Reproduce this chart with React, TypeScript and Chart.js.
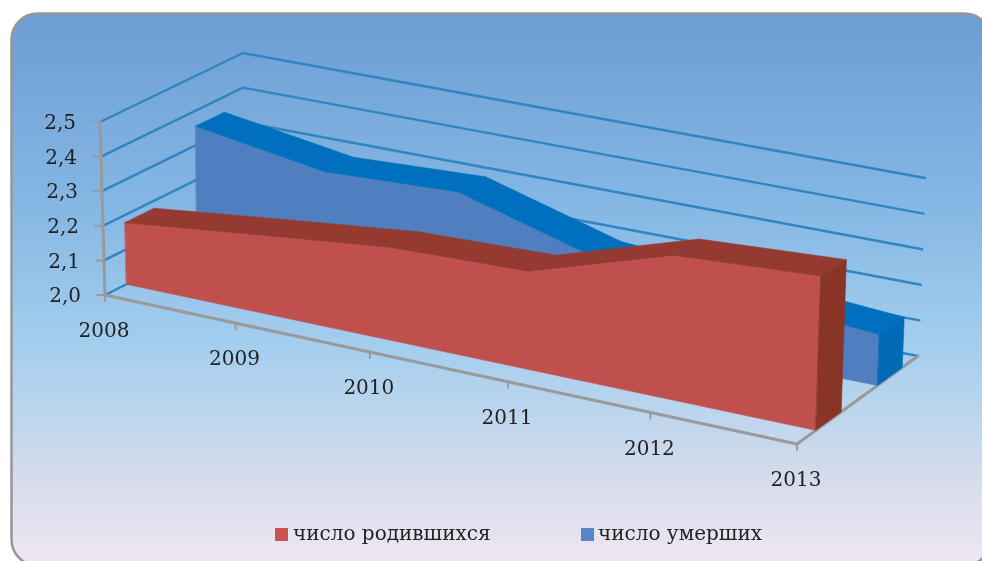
import React, { useEffect, useRef } from "react";
import { Chart, registerables } from "chart.js";

Chart.register(...registerables);

const categories = ["2008", "2009", "2010", "2011", "2012", "2013"];
const birthsLabel = "число родившихся";
const deathsLabel = "число умерших";
const births = [2.178, 2.22, 2.26, 2.27, 2.39, 2.41];
const deaths = [2.355, 2.295, 2.31, 2.2, 2.17, 2.14];
const valueTicks = [2.0, 2.1, 2.2, 2.3, 2.4, 2.5];

type P = [number, number];
const FL: P = [105, 295], FR: P = [797, 444], BR: P = [918, 356], BL: P = [243, 226];
const FLt: P = [100, 122], FRt: P = [803, 254], BRt: P = [925, 178], BLt: P = [243, 53];
const PERSP = -0.07;
const FONT = '20px "DejaVu Serif"';

const mix = (a: P, b: P, t: number): P => [a[0] + (b[0] - a[0]) * t, a[1] + (b[1] - a[1]) * t];
const project = (u: number, d: number, h: number): P => {
  const w = (u * (1 + PERSP)) / (1 + PERSP * u);
  const floor = mix(mix(FL, FR, w), mix(BL, BR, w), d);
  const top = mix(mix(FLt, FRt, w), mix(BLt, BRt, w), d);
  return mix(floor, top, h);
};

const poly = (ctx: CanvasRenderingContext2D, pts: P[], fill: string) => {
  ctx.beginPath();
  pts.forEach((p, i) => (i ? ctx.lineTo(p[0], p[1]) : ctx.moveTo(p[0], p[1])));
  ctx.closePath();
  ctx.fillStyle = fill;
  ctx.strokeStyle = fill;
  ctx.lineWidth = 0.6;
  ctx.fill();
  ctx.stroke();
};
const seg = (ctx: CanvasRenderingContext2D, a: P, b: P, color: string, width: number) => {
  ctx.beginPath();
  ctx.moveTo(a[0], a[1]);
  ctx.lineTo(b[0], b[1]);
  ctx.strokeStyle = color;
  ctx.lineWidth = width;
  ctx.stroke();
};

const look: Record<number, { d1: number; d2: number; front: string; top: string; side: string }> = {
  0: { d1: 0.155, d2: 0.365, front: "#C0504D", top: "#943A30", side: "#883528" },
  1: { d1: 0.665, d2: 0.87, front: "#4F7FBE", top: "#0070BE", side: "#006AB6" },
};

const scene = {
  id: "scene3d",
  beforeDraw(chart: any) {
    const { ctx, width, height } = chart;
    const g = ctx.createLinearGradient(0, 13, 0, 561);
    g.addColorStop(0, "#6C9DD3");
    g.addColorStop(0.35, "#85B7E4");
    g.addColorStop(0.62, "#A6CFEE");
    g.addColorStop(0.82, "#CFDAEC");
    g.addColorStop(1, "#F0E6F2");
    ctx.save();
    ctx.fillStyle = "#fff";
    ctx.fillRect(0, 0, width, height);
    ctx.beginPath();
    ctx.roundRect(11.5, 13.5, 979, 552, 26);
    ctx.fillStyle = g;
    ctx.fill();
    ctx.strokeStyle = "#979797";
    ctx.lineWidth = 2.5;
    ctx.stroke();
    ctx.restore();
  },
  beforeDatasetsDraw(chart: any) {
    const { ctx, chartArea, scales } = chart;
    const xs = scales.x, ys = scales.y;
    const U = (i: number) => (xs.getPixelForValue(i) - chartArea.left) / chartArea.width;
    const H = (v: number) => (chartArea.bottom - ys.getPixelForValue(v)) / chartArea.height;
    ctx.save();
    ctx.lineCap = "round";
    ctx.lineJoin = "round";

    // walls
    valueTicks.forEach((t) => {
      const h = H(t);
      seg(ctx, project(0, 0, h), project(0, 1, h), "#2F86C0", 2.4);
      seg(ctx, project(0, 1, h), project(1, 1, h), "#2F86C0", 2.4);
    });

    // axes
    seg(ctx, project(0, 0, 0), project(0, 0, 1), "#9A9A9A", 3);
    seg(ctx, project(0, 0, 0), project(1, 0, 0), "#9A9A9A", 3);
    seg(ctx, project(1, 0, 0), project(1, 1, 0), "#9A9A9A", 3);

    ctx.font = FONT;
    ctx.fillStyle = "#222";
    ctx.textBaseline = "middle";
    ctx.textAlign = "right";
    valueTicks.forEach((t) => {
      const p = project(0, 0, H(t));
      seg(ctx, p, [p[0] - 8, p[1]], "#9A9A9A", 2);
      ctx.fillStyle = "#222";
      ctx.fillText(t.toFixed(1).replace(".", ","), p[0] - 24, p[1] + 2);
    });
    ctx.textAlign = "center";
    categories.forEach((c, i) => {
      const p = project(U(i), 0, 0);
      seg(ctx, p, [p[0], p[1] + 6], "#9A9A9A", 2);
      ctx.fillStyle = "#222";
      ctx.fillText(c, p[0] - 1, p[1] + 37);
    });

    // series, back to front
    [1, 0].forEach((k) => {
      const vals: number[] = chart.data.datasets[k].data;
      const s = look[k];
      const n = vals.length;
      const frontPts: P[] = vals.map((v, i) => project(U(i), s.d1, H(v)));
      poly(ctx, [...frontPts, project(U(n - 1), s.d1, 0), project(U(0), s.d1, 0)], s.front);
      for (let i = 0; i < n - 1; i++) {
        poly(ctx, [
          project(U(i), s.d1, H(vals[i])),
          project(U(i + 1), s.d1, H(vals[i + 1])),
          project(U(i + 1), s.d2, H(vals[i + 1])),
          project(U(i), s.d2, H(vals[i])),
        ], s.top);
      }
      const last = U(n - 1), h = H(vals[n - 1]);
      poly(ctx, [project(last, s.d1, h), project(last, s.d2, h), project(last, s.d2, 0), project(last, s.d1, 0)], s.side);
    });

    // legend
    const items: [number, number, number, string][] = [[0, 275, 293, "#C9544F"], [1, 581, 598, "#5586C6"]];
    ctx.font = FONT;
    ctx.textAlign = "left";
    items.forEach(([k, bx, tx, col]) => {
      ctx.fillStyle = col;
      ctx.fillRect(bx, 528, 13, 13);
      ctx.fillStyle = "#222";
      ctx.fillText(chart.data.datasets[k].label, tx, 535);
    });
    ctx.restore();
  },
};

export default function App() {
  const ref = useRef<HTMLCanvasElement>(null);
  useEffect(() => {
    const chart = new Chart(ref.current!, {
      type: "line",
      data: {
        labels: categories,
        datasets: [
          { label: birthsLabel, data: births, showLine: false, pointRadius: 0, backgroundColor: "#C0504D" },
          { label: deathsLabel, data: deaths, showLine: false, pointRadius: 0, backgroundColor: "#4F81BD" },
        ],
      },
      options: {
        animation: false,
        responsive: false,
        layout: { padding: 0 },
        scales: {
          x: { type: "category", display: false, offset: false },
          y: { type: "linear", display: false, min: 2.0, max: 2.5 },
        },
        plugins: { legend: { display: false }, tooltip: { enabled: false } },
      },
      plugins: [scene],
    } as any);
    return () => chart.destroy();
  }, []);
  return (
    <div style={{ position: "absolute", left: 0, top: 0, width: 982, height: 561, overflow: "hidden" }}>
      <canvas ref={ref} width={982} height={561} style={{ display: "block" }} />
    </div>
  );
}
